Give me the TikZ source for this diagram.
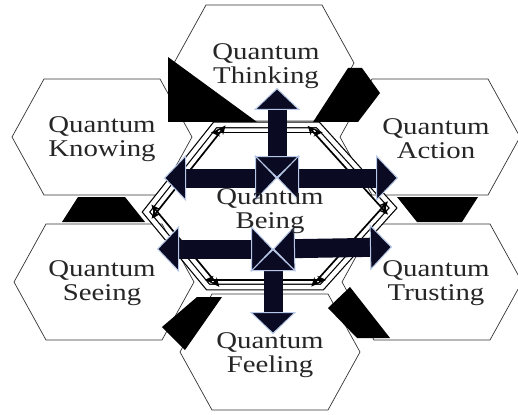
\documentclass[tikz,border=0pt]{standalone}
\usepackage{fontspec}
\setmainfont{Liberation Serif}[FakeStretch=1.2]
\usetikzlibrary{arrows.meta, calc}
\definecolor{navyblack}{HTML}{0A0A22}
\definecolor{tipedge}{HTML}{B8C8E8}

% flat-topped hexagon around a centre coordinate
\newcommand{\hexcell}[1]{%
  \filldraw[hexline] (#1) ++(-90,0) -- ++(32,-58) -- ++(116,0) -- ++(32,58)
    -- ++(-32,58) -- ++(-116,0) -- cycle;}

\begin{document}
\begin{tikzpicture}[
    x=1pt, y=-1pt,
    hexline/.style={draw=black!80, fill=white, line width=0.7pt},
    hexlabel/.style={align=center, font=\fontsize{24}{24}\selectfont,
                     text=black!85, inner sep=0pt},
    filler/.style={fill=black, draw=none},
    ringline/.style={draw=black, line width=1.2pt, double=white,
                     double distance=4.5pt, line join=miter},
    edgearrow/.style={{Stealth[length=9pt,width=8pt]}-{Stealth[length=9pt,width=8pt]},
                      line width=1.7pt, shorten <=-9pt, shorten >=-9pt},
    blockarrow/.style={line width=19pt, draw=navyblack,
      {Triangle[width=46pt,length=22pt,line width=1pt,color=tipedge,fill=navyblack]}-%
      {Triangle[width=46pt,length=22pt,line width=1pt,color=tipedge,fill=navyblack]}}
]
\useasboundingbox (0,0) rectangle (518,414);

% outer cells
\coordinate (thinkc) at (264,63);
\coordinate (knowc) at (102,137);
\coordinate (actc) at (430,137);
\coordinate (seec) at (104,282);
\coordinate (trustc) at (432,282);
\coordinate (feelc) at (270,352);
\coordinate (beingc) at (270,208);

\hexcell{thinkc}
\hexcell{knowc}
\hexcell{actc}
\hexcell{seec}
\hexcell{trustc}
\hexcell{feelc}

% black wedges between the cells
\fill[filler] (168,57) -- (168,122) -- (257,122) -- cycle;
\fill[filler] (313,122) -- (348,68) -- (362,68) -- (380,93) -- (358,122) -- cycle;
\fill[filler] (78,197) -- (125,197) -- (145,222) -- (62,222) -- cycle;
\fill[filler] (397,197) -- (478,197) -- (462,222) -- (417,222) -- cycle;
\fill[filler] (162,327) -- (197,297) -- (222,297) -- (185,350) -- cycle;
\fill[filler] (328,308) -- (350,287) -- (390,338) -- (357,338) -- cycle;

% centre ring
\coordinate (hTL) at (215,125);
\coordinate (hTR) at (318,125);
\coordinate (hR) at (393,208);
\coordinate (hBR) at (322,287);
\coordinate (hBL) at (208,287);
\coordinate (hL) at (146,212);
\draw[ringline] (hTL) -- (hTR) -- (hR) -- (hBR) -- (hBL) -- (hL) -- cycle;

\foreach \v in {TL,TR,R,BR,BL,L}
    \coordinate (i\v) at ($(beingc)!0.91!(h\v)$);
\draw[edgearrow] (iTL) -- (iTR);
\draw[edgearrow] (iTR) -- (iR);
\draw[edgearrow] (iR) -- (iBR);
\draw[edgearrow] (iBR) -- (iBL);
\draw[edgearrow] (iBL) -- (iL);
\draw[edgearrow] (iL) -- (iTL);

% block arrows from the two hubs
\coordinate (uphub) at (277,178);
\coordinate (lowhub) at (273,249);
\coordinate (upend) at (277,88);
\coordinate (upleft) at (164,178);
\coordinate (upright) at (398,178);
\coordinate (downend) at (273,334);
\coordinate (lowleft) at (157,249);
\coordinate (lowright) at (392,247);

\draw[blockarrow] (uphub) -- (upend);
\draw[blockarrow] (uphub) -- (upleft);
\draw[blockarrow] (uphub) -- (upright);
\draw[blockarrow] (lowhub) -- (downend);
\draw[blockarrow] (lowhub) -- (lowleft);
\draw[blockarrow] (lowhub) -- (lowright);

% labels
\node[hexlabel] (thinking) at ($(thinkc)+(2,3)$) {Quantum\\Thinking};
\node[hexlabel] (knowing) at ($(knowc)+(0,2)$) {Quantum\\Knowing};
\node[hexlabel] (action) at ($(actc)+(6,2)$) {Quantum\\Action};
\node[hexlabel] (seeing) at ($(seec)+(-2,1)$) {Quantum\\Seeing};
\node[hexlabel] (trusting) at ($(trustc)+(4,1)$) {Quantum\\Trusting};
\node[hexlabel] (feeling) at ($(feelc)+(0,3)$) {Quantum\\Feeling};
\node[hexlabel] (being) at ($(beingc)+(0,3)$) {Quantum\\Being};

\end{tikzpicture}
\end{document}
